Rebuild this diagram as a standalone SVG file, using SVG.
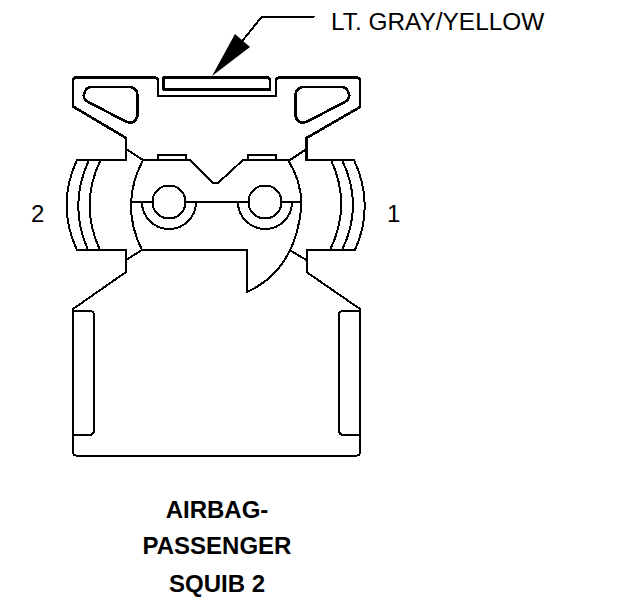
<svg xmlns="http://www.w3.org/2000/svg" width="624" height="600" viewBox="0 0 624 600">
<style>
.l{fill:none;stroke:#000;stroke-width:2;stroke-linejoin:round;stroke-linecap:round;shape-rendering:crispEdges}
.h{stroke-width:2.6}
.t{font-family:"Liberation Sans",Arial,sans-serif;fill:#000;font-size:24px}
.lb{font-weight:bold;text-anchor:middle}
</style>
<rect width="624" height="600" fill="#fff"/>
<g id="connector-housing">
<path class="l h" d="M158 96V81Q158 77.500 154 77.500H76Q73 77.500 73 81V106.500L126 138V160H77"/>
<path class="l h" d="M158 96H276V81Q276 77.500 280 77.500H356Q360 77.500 360 81V107L306.500 138V160H354"/>
<path class="l h" d="M90 87H130Q137 88 137.500 95V116Q135 125 127 122L88 102Q82 98 84.500 93Q86 88 90 87Z"/>
<path class="l h" d="M343 87H303Q296 88 295.500 95V116Q298 125 306 122L345 102Q351 98 348.500 93Q347 88 343 87Z"/>
<path class="l h" d="M163.500 89.500V77.500H267Q270 77.500 270 81V89.500Z"/>
<path class="l" d="M126 149L143 160H190L213 183H218L243 160H290L306.500 149"/>
<path class="l" d="M158 160V155H186V160M248 160V155H276V160"/>
<path class="l" d="M126 260L142 250H247V292Q296 270 301.500 205Q301 180 288 160"/>
<path class="l" d="M143 160Q119.500 205 142 250"/>
<path class="l" d="M291 251L306.500 260"/>
<path class="l" d="M126 250V272L73 309M77 250H126M306.500 250V272L360 309M306.500 250H355"/>
<path class="l" d="M77 160Q56 205 77 250M89 160Q68 205 88 250M100.500 160Q79 205 100 250"/>
<path class="l" d="M331 160Q352 205 330 250M342 160Q364 205 342 250M354 160Q375 205 355 250"/>
<path class="l" d="M131 202H152.500M185.500 202H248.500M281.500 202H301.500"/>
<circle class="l" cx="169" cy="202" r="16.500"/>
<circle class="l" cx="265" cy="202" r="16.500"/>
<path class="l" d="M142 202A27 27 0 0 0 196 202M238 202A27 27 0 0 0 292 202"/>
<path class="l" d="M73 309V452Q73 455.500 76 455.500H357Q360 455.500 360 452V309"/>
<path class="l" d="M73 311H90Q94 311 94 315V430Q94 435 89 435H73"/>
<path class="l" d="M360 311H343Q339 311 339 315V430Q339 435 344 435H360"/>
</g>
<g id="connectors">
<path class="l" d="M314 16.500H262L243 40"/>
<polygon points="212,76 235,34 250,47" fill="#000"/>
</g>
<g id="labels">
<text class="t" x="331" y="30" style="font-size:24.4px">LT. GRAY/YELLOW</text>
<text class="t" x="31" y="222">2</text>
<text class="t" x="387" y="222">1</text>
<text class="t lb" x="217" y="518">AIRBAG-</text>
<text class="t lb" x="217" y="554">PASSENGER</text>
<text class="t lb" x="217" y="592">SQUIB 2</text>
</g>
</svg>
